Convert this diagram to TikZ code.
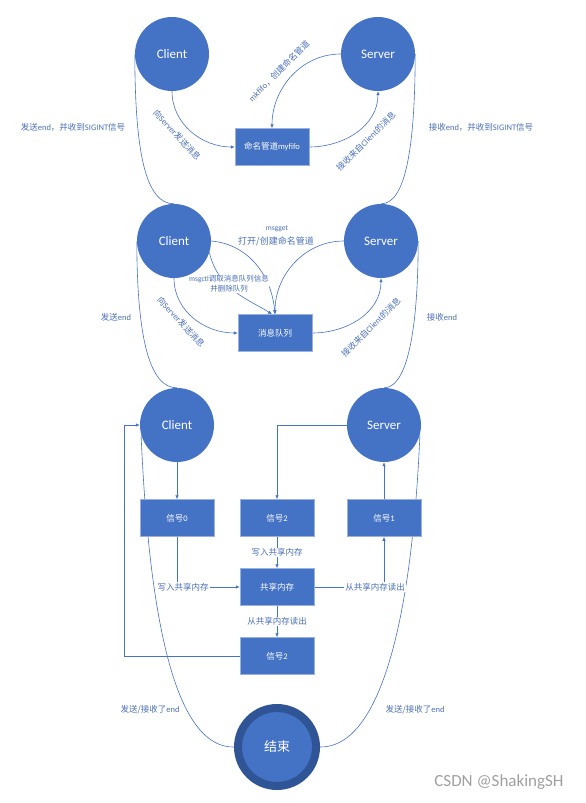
\documentclass[tikz,border=0pt]{standalone}
\usepackage{fontspec}
\setmainfont{Carlito}
\newfontfamily\cjk{Noto Sans CJK SC}
\usetikzlibrary{arrows.meta,backgrounds}
\definecolor{myblue}{HTML}{4472C4}
\definecolor{darkring}{HTML}{2F5597}
\definecolor{labblue}{HTML}{4A6FB8}
\newcommand{\zh}[1]{{\cjk #1}}
\begin{document}
\begin{tikzpicture}[x=1pt,y=1pt,
  circ/.style={circle,fill=myblue,minimum size=74pt,inner sep=0pt,text=white,font=\fontsize{13}{15}\selectfont},
  box/.style={rectangle,fill=myblue,draw=myblue!55!white,line width=0.5pt,minimum width=74pt,minimum height=37pt,inner sep=0pt,text=white,font=\fontsize{8.5}{10}\selectfont},
  conn/.style={draw=myblue,line width=0.6pt},
  arr/.style={conn,-{Latex[length=4pt,width=3.5pt]}},
  lab/.style={text=labblue,font=\fontsize{8.5}{10}\selectfont,inner sep=1pt,align=center},
  wlab/.style={lab,fill=white},
]
\useasboundingbox (0,0) rectangle (586,-803);

% nodes
\node[circ] (c1) at (172,-54) {Client};
\node[circ] (s1) at (378,-54) {Server};
\node[box] (p1) at (272,-147) {\zh{命名管道}myfifo};

\node[circ] (c2) at (174,-241) {Client};
\node[circ] (s2) at (381,-241) {Server};
\node[box] (q2) at (275,-333) {\zh{消息队列}};

\node[circ] (c3) at (177,-425) {Client};
\node[circ] (s3) at (384,-425) {Server};
\node[box] (g0) at (177,-518) {\zh{信号}0};
\node[box] (g2a) at (277,-518) {\zh{信号}2};
\node[box] (g1) at (384,-518) {\zh{信号}1};
\node[box] (shm) at (277,-587) {\zh{共享内存}};
\node[box] (g2b) at (277,-656) {\zh{信号}2};

\node[circle,fill=myblue,draw=darkring,line width=8pt,minimum size=78pt,inner sep=0pt,text=white,font=\cjk\fontsize{13}{15}\selectfont] (end) at (277,-747) {结束};

\coordinate (lc) at (124,-656);

\begin{scope}[on background layer]
% top section
\draw[arr] (c1.south) to[out=-90,in=180] (p1.west);
\draw[arr] (p1.east) to[out=0,in=-90] (s1.south);
\draw[arr] (s1.west) to[out=180,in=90] (p1.north);
\draw[conn] (c1.west) .. controls (135,-150) and (145,-204) .. (c2.north);
\draw[conn] (s1.east) .. controls (415,-150) and (405,-204) .. (s2.north);

% middle section
\draw[arr] (c2.south) to[out=-90,in=180] (q2.west);
\draw[arr] (q2.east) to[out=0,in=-90] (s2.south);
\draw[arr] (s2.west) to[out=180,in=90] (q2.north);
\draw[arr] (c2.east) to[out=-5,in=95] (q2.north);
\draw[arr] (c2.-18) .. controls (218,-290) and (250,-300) .. ([xshift=-3pt]q2.north);
\draw[conn] (c2.west) .. controls (137,-340) and (150,-388) .. (c3.north);
\draw[conn] (s2.east) .. controls (418,-340) and (405,-388) .. (s3.north);

% bottom section
\draw[arr] (c3.south) -- (g0.north);
\draw[arr] (s3.west) -| (g2a.north);
\draw[arr] (g1.north) -- (s3.south);
\draw[arr] (g0.south) |- (shm.west);
\draw[arr] (g2a.south) -- node[wlab] (l1) {\zh{写入共享内存}} (shm.north);
\draw[arr] (shm.east) -| (g1.south);
\draw[arr] (shm.south) -- node[wlab] (l2) {\zh{从共享内存读出}} (g2b.north);
\draw[arr] (g2b.west) -- (lc) |- (c3.west);
\draw[conn] (c3.195) .. controls (150,-640) and (180,-748) .. (end.west);
\draw[conn] (s3.-15) .. controls (411,-640) and (375,-748) .. (end.east);
\node[wlab] (l3) at (183,-587) {\zh{写入共享内存}};
\node[wlab] (l4) at (375,-587) {\zh{从共享内存读出}};
\end{scope}

% labels
\node[lab] (t1) at (73,-127) {\zh{发送}end\zh{，并收到}SIGINT\zh{信号}};
\node[lab] (t2) at (481,-127) {\zh{接收}end\zh{，并收到}SIGINT\zh{信号}};
\node[lab,rotate=-47] (t3) at (177,-135) {\zh{向}Server\zh{发送消息}};
\node[lab,rotate=45] (t4) at (279,-71) {mkfifo\zh{，创建命名管道}};
\node[lab,rotate=45] (t5) at (366,-141) {\zh{接收来自}Client\zh{的消息}};

\node[lab,font=\fontsize{7.5}{9}\selectfont] (t6) at (277,-229) {msgget};
\node[lab,font=\fontsize{9}{11}\selectfont] (t7) at (276,-241) {\zh{打开/创建命名管道}};
\node[lab,font=\fontsize{7.5}{10}\selectfont,fill=white,inner sep=0.5pt] (t8) at (229,-284) {msgctl\zh{调取消息队列信息}\\\zh{并删除队列}};
\node[lab] (t9) at (116,-317) {\zh{发送}end};
\node[lab] (t10) at (442,-317) {\zh{接收}end};
\node[lab,rotate=-47] (t11) at (181,-322) {\zh{向}Server\zh{发送消息}};
\node[lab,rotate=45] (t12) at (371,-327) {\zh{接收来自}Client\zh{的消息}};

\node[lab] (t13) at (150,-710) {\zh{发送/接收了}end};
\node[lab] (t14) at (415,-710) {\zh{发送/接收了}end};

\node[text=gray!75,font=\fontsize{17}{20}\selectfont,inner sep=0pt] (wm) at (499,-782) {CSDN @ShakingSH};
\end{tikzpicture}
\end{document}
